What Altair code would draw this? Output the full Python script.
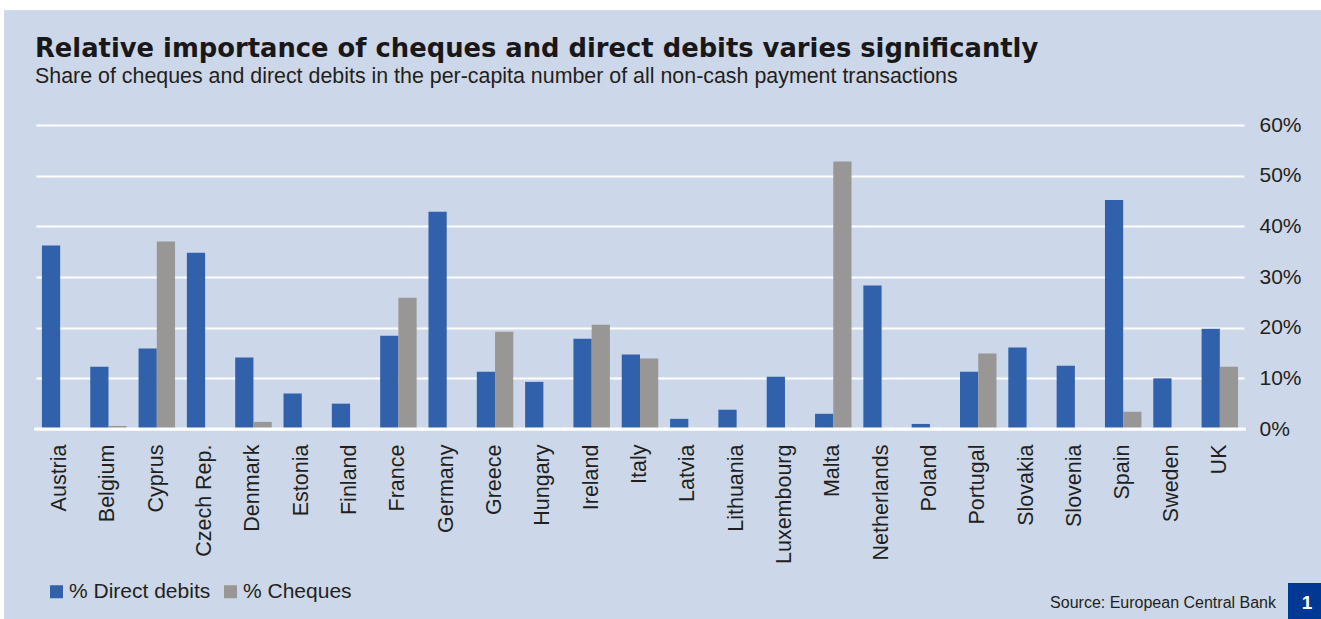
import altair as alt
import pandas as pd

countries = ["Austria", "Belgium", "Cyprus", "Czech Rep.", "Denmark", "Estonia", "Finland",
             "France", "Germany", "Greece", "Hungary", "Ireland", "Italy", "Latvia",
             "Lithuania", "Luxembourg", "Malta", "Netherlands", "Poland", "Portugal",
             "Slovakia", "Slovenia", "Spain", "Sweden", "UK"]
direct_debits = [36.2, 12.3, 15.9, 34.8, 14.1, 7.0, 5.0, 18.4, 42.9, 11.3, 9.3, 17.8, 14.7,
                 2.0, 3.8, 10.3, 3.0, 28.3, 1.0, 11.3, 16.1, 12.5, 45.2, 10.0, 19.8]
cheques = [0.0, 0.6, 37.0, 0.0, 1.4, 0.0, 0.0, 25.9, 0.2, 19.2, 0.0, 20.6, 13.9,
           0.0, 0.0, 0.0, 52.8, 0.0, 0.0, 14.9, 0.0, 0.0, 3.4, 0.0, 12.3]
series_names = ["% Direct debits", "% Cheques"]
series_colors = ["#3161ab", "#989795"]
y_ticks = [0, 10, 20, 30, 40, 50, 60]

title_text = "Relative importance of cheques and direct debits varies significantly"
subtitle_text = "Share of cheques and direct debits in the per-capita number of all non-cash payment transactions"
source_text = "Source: European Central Bank"
box_label = "1"

rows = []
for i, c in enumerate(countries):
    rows.append({"country": c, "series": series_names[0], "value": direct_debits[i]})
    rows.append({"country": c, "series": series_names[1], "value": cheques[i]})
df = pd.DataFrame(rows)

W, H = 1208, 304
PAD_L, PAD_T = 36, 125
TOTAL_W, TOTAL_H = 1321, 619
BG = "#ccd7e9"
TXT = "#231f20"
FONT = "Liberation Sans"

bars = alt.Chart(df).mark_bar().encode(
    x=alt.X("country:N", sort=countries, title=None,
            scale=alt.Scale(paddingInner=0.245, paddingOuter=0.1225),
            axis=alt.Axis(labelAngle=-90, labelFontSize=21.5, labelColor=TXT,
                          labelFont=FONT, labelPadding=15,
                          domain=False, ticks=False, grid=False)),
    xOffset=alt.XOffset("series:N", scale=alt.Scale(domain=series_names, paddingInner=0)),
    y=alt.Y("value:Q", title=None,
            scale=alt.Scale(domain=[0, 60], nice=False),
            axis=alt.Axis(orient="right", values=y_ticks, labelExpr="datum.value + '%'",
                          labelFontSize=21, labelColor=TXT, labelFont=FONT,
                          labelPadding=15, domain=False, ticks=False,
                          grid=True, gridColor="white", gridWidth=2, gridOpacity=1)),
    color=alt.Color("series:N", scale=alt.Scale(domain=series_names, range=series_colors),
                    legend=alt.Legend(orient="none", legendX=10, legendY=456,
                                      direction="horizontal", title=None,
                                      symbolType="square", symbolSize=169,
                                      symbolStrokeWidth=0, symbolOpacity=1,
                                      labelFontSize=21, labelColor=TXT,
                                      labelFont=FONT, labelOffset=2,
                                      columnPadding=9)),
)

zero = alt.Chart(pd.DataFrame({"v": [0]})).mark_rule(color="white", strokeWidth=3).encode(
    y="v:Q", x=alt.value(-2), x2=alt.value(W + 2))

one = pd.DataFrame({"t": [""]})
top_strip = alt.Chart(one).mark_rect(color="white").encode(
    x=alt.value(-PAD_L), x2=alt.value(TOTAL_W - PAD_L), y=alt.value(-PAD_T), y2=alt.value(-PAD_T + 10))
left_strip = alt.Chart(one).mark_rect(color="white").encode(
    x=alt.value(-PAD_L), x2=alt.value(-PAD_L + 4), y=alt.value(-PAD_T), y2=alt.value(TOTAL_H - PAD_T))

title = alt.Chart(pd.DataFrame({"t": [title_text]})).mark_text(
    align="left", baseline="alphabetic", fontSize=25.8, fontWeight="bold", color="#1a1718",
    font="DejaVu Sans").encode(
    text="t:N", x=alt.value(35 - PAD_L), y=alt.value(57 - PAD_T))
subtitle = alt.Chart(pd.DataFrame({"t": [subtitle_text]})).mark_text(
    align="left", baseline="alphabetic", fontSize=21.4, color=TXT, font=FONT).encode(
    text="t:N", x=alt.value(35 - PAD_L), y=alt.value(83 - PAD_T))

source = alt.Chart(pd.DataFrame({"t": [source_text]})).mark_text(
    align="right", baseline="alphabetic", fontSize=16, color=TXT, font=FONT).encode(
    text="t:N", x=alt.value(1276 - PAD_L), y=alt.value(608 - PAD_T))

box = alt.Chart(one).mark_rect(color="#003894").encode(
    x=alt.value(1288 - PAD_L), x2=alt.value(TOTAL_W - PAD_L), y=alt.value(583 - PAD_T), y2=alt.value(TOTAL_H - PAD_T))
box_text = alt.Chart(pd.DataFrame({"t": [box_label]})).mark_text(
    align="center", baseline="alphabetic", fontSize=19, fontWeight="bold", color="white",
    font=FONT).encode(
    text="t:N", x=alt.value(1307 - PAD_L), y=alt.value(609 - PAD_T))

chart = alt.layer(top_strip, left_strip, bars, zero, title, subtitle, source, box, box_text).properties(
    width=W, height=H,
    autosize=alt.AutoSizeParams(type="none"),
    padding={"left": PAD_L, "top": PAD_T, "right": TOTAL_W - PAD_L - W, "bottom": TOTAL_H - PAD_T - H},
    background=BG,
).configure_view(stroke=None)

chart.save("out.html", embed_options={"renderer": "svg", "actions": False})
